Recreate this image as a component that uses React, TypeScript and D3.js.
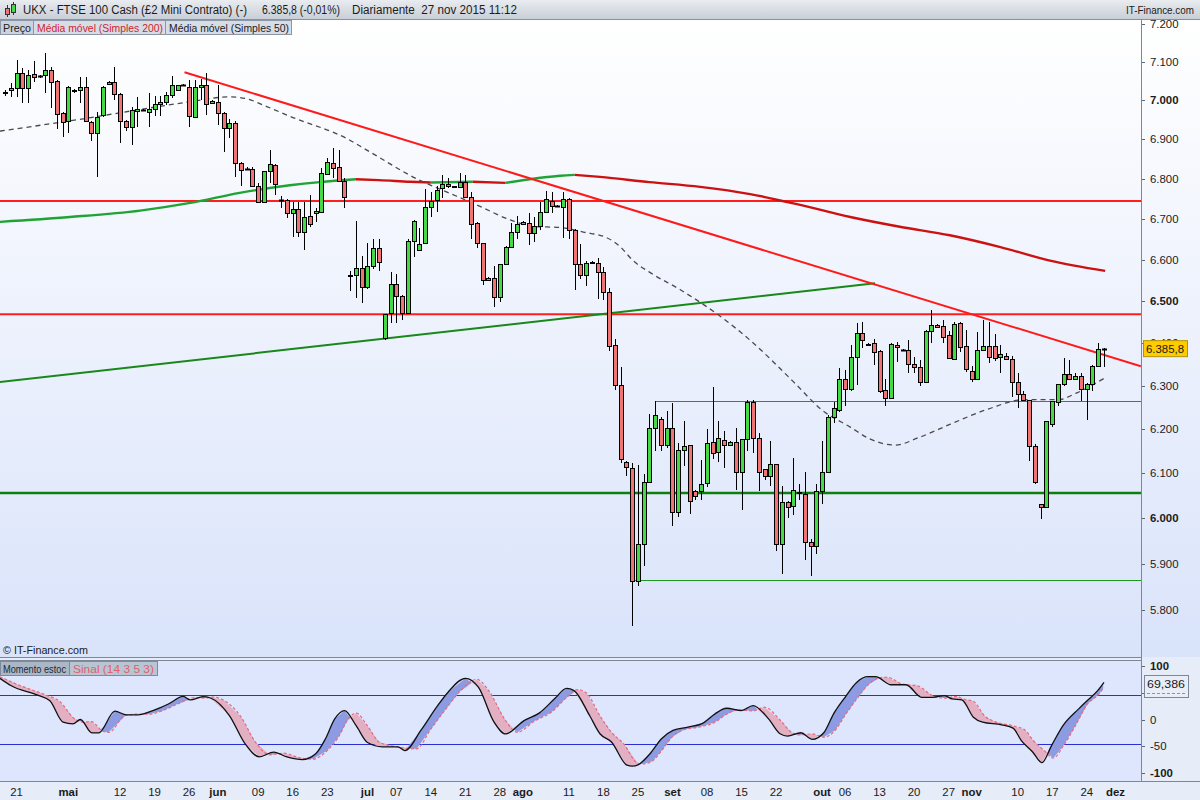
import React from 'react';
import * as d3 from 'd3';

const opens = [7020,7026,7031,7070,7031,7068,7063,7066,7079,7050,6968,6946,7026,7026,7034,6944,6917,6961,7042,7047,7016,6946,6932,6973,6976,6971,6977,6990,6997,7015,7026,7039,7035,6958,7034,7039,6992,6997,6968,6929,6943,6841,6826,6824,6782,6742,6820,6836,6748,6748,6714,6724,6668,6708,6714,6718,6812,6841,6830,6796,6562,6564,6580,6533,6584,6628,6413,6471,6542,6513,6472,6645,6625,6640,6731,6748,6777,6787,6781,6779,6793,6754,6690,6640,6550,6557,6509,6589,6632,6668,6687,6690,6665,6684,6717,6746,6733,6731,6750,6674,6590,6562,6594,6592,6570,6523,6395,6301,6126,6113,5862,5943,6081,6204,6223,6164,6202,6013,6153,6164,6060,6060,6079,6170,6149,6176,6165,6172,6104,6177,6263,6179,6109,6095,6120,5943,6036,6026,6057,6053,5947,5938,6060,6104,6228,6245,6316,6292,6368,6425,6397,6400,6382,6291,6272,6395,6385,6385,6350,6344,6309,6428,6444,6440,6419,6362,6448,6393,6335,6316,6385,6393,6393,6367,6369,6362,6309,6281,6267,6162,6031,6024,6212,6263,6304,6327,6316,6322,6292,6304,6347,6386];
const highs = [7028,7045,7105,7084,7079,7102,7066,7124,7087,7052,6970,7037,7030,7060,7060,6946,6971,7037,7050,7087,7018,6949,6983,7008,6978,7018,7010,7010,7022,7063,7040,7042,7053,7053,7055,7071,7000,7039,6971,6951,6946,6842,6829,6829,6790,6821,6874,6837,6757,6749,6743,6743,6743,6760,6728,6828,6853,6878,6873,6802,6574,6694,6610,6642,6652,6652,6470,6571,6565,6516,6652,6698,6679,6774,6767,6781,6810,6802,6783,6815,6810,6767,6692,6641,6558,6586,6591,6633,6690,6707,6694,6714,6706,6742,6770,6767,6735,6767,6753,6675,6638,6597,6596,6605,6582,6531,6410,6345,6127,6124,6118,6098,6234,6264,6227,6242,6261,6168,6218,6165,6062,6129,6200,6298,6220,6196,6174,6202,6178,6268,6268,6191,6110,6173,6121,6071,6037,6134,6075,6102,5954,6075,6174,6232,6262,6341,6337,6395,6447,6450,6400,6411,6384,6316,6400,6404,6387,6407,6368,6361,6431,6479,6446,6455,6428,6450,6450,6431,6346,6426,6455,6450,6421,6395,6378,6371,6330,6287,6268,6166,6032,6219,6266,6305,6364,6360,6331,6330,6306,6348,6400,6388];
const lows = [7012,7008,7008,6993,6993,7047,7058,7018,6980,6927,6905,6917,7020,6993,6944,6895,6805,6958,7040,7000,6890,6920,6885,6932,6973,6932,6959,6959,6988,7007,7025,7037,6931,6957,7000,6961,6990,6937,6869,6904,6806,6783,6822,6782,6739,6740,6790,6760,6728,6702,6656,6657,6625,6680,6693,6714,6811,6803,6796,6727,6525,6508,6495,6529,6577,6573,6407,6447,6448,6455,6471,6607,6621,6639,6706,6718,6752,6777,6779,6777,6753,6650,6629,6538,6548,6487,6498,6588,6631,6650,6685,6635,6644,6673,6716,6714,6731,6654,6650,6527,6553,6537,6592,6505,6502,6382,6291,6124,6094,5766,5851,5894,6080,6151,6151,6158,5983,6003,6117,6009,6040,6040,6070,6132,6126,6112,6163,6062,6017,6151,6146,6061,6086,6071,5927,5878,6000,6007,6040,5909,5873,5922,6032,6100,6215,6240,6253,6287,6302,6388,6393,6349,6283,6253,6271,6355,6383,6331,6331,6300,6307,6400,6437,6400,6362,6361,6380,6333,6310,6314,6384,6354,6357,6330,6360,6275,6249,6264,6128,6077,5999,6023,6205,6253,6300,6315,6314,6264,6222,6287,6346,6345];
const closes = [7022,7033,7070,7031,7066,7060,7062,7079,7047,6966,6944,7034,7025,7034,6946,6917,6956,7034,7047,7016,6946,6932,6976,6978,6975,6978,6990,6997,7015,7039,7039,7040,6959,7034,7041,6990,6999,6968,6929,6943,6841,6822,6825,6782,6742,6820,6838,6786,6747,6714,6724,6668,6706,6687,6720,6815,6843,6828,6796,6756,6561,6580,6533,6584,6628,6594,6469,6542,6513,6472,6645,6695,6638,6729,6745,6773,6787,6782,6780,6793,6754,6687,6640,6552,6557,6509,6589,6632,6668,6687,6692,6665,6684,6717,6750,6733,6732,6750,6674,6589,6562,6592,6593,6570,6521,6394,6301,6133,6115,5862,5943,6081,6204,6233,6164,6202,6013,6153,6161,6037,6050,6077,6168,6147,6179,6165,6172,6104,6177,6263,6179,6104,6095,6120,5943,6036,6024,6062,6056,5947,5938,6060,6104,6227,6248,6316,6292,6368,6425,6407,6396,6380,6288,6272,6397,6390,6384,6350,6344,6310,6428,6443,6438,6414,6365,6445,6392,6340,6316,6385,6393,6368,6366,6374,6362,6309,6281,6267,6162,6080,6024,6218,6264,6304,6327,6316,6322,6292,6304,6347,6386,6386];

const sma50Idx = [-0.9,12.5,25,32,39,42,45.5,49.5,59.4,64,72,76,82,87.8,91.8,96.5,100.5,104.6,107,109,112,117.3,124.3,129.5,137,142,146.9,150.3,154.7,159,164.2,171,177,183,186.3,191.2];
const sma50Val = [6921,6950,6980,6996,7009,7004,6984,6959,6902,6863,6797,6772,6735,6698,6682,6679,6668,6654,6631,6600,6570,6528,6464,6407,6310,6244,6205,6178,6164,6182,6211,6247,6268,6268,6284,6319];

const sma200Idx = [-0.9,11.3,23.5,32.2,40.8,49.5,54.7,61,65,70.4,74,81.3,87,96.5,99,103.4,112,120.8,129.5,138.2,146.9,155.5,164.2,173,181.6,191.2];
const sma200Val = [6693,6705,6721,6740,6765,6784,6792,6799,6797,6793,6791,6793,6790,6808,6810,6805,6792,6780,6762,6735,6705,6681,6660,6631,6598,6573];

const momIdx = [-0.9,1.1,5.8,7.8,10.1,11.8,13.1,15.1,16.3,19.1,21.1,23.1,25.7,28.4,31,32.2,34.4,35.7,39,41.7,44.2,46.7,49,51.7,54,55.7,57.3,59,61,63,65.6,68.3,69.5,72.3,75,77,80,82.3,85,87,90.2,92.9,95.6,97.6,98.9,101.6,103.4,105.4,108.1,109,110.1,112.1,114.1,116.1,118.7,121.4,123.4,125.4,128,130,132.7,134.7,136,138.3,140.3,142.3,144,146,148,150,151.3,154,156.6,159.3,161.3,163.3,164.6,166.3,168.3,169.9,173.2,175.2,176.6,178.6,180.2,181.9,183.9,186.6,188.2,189.9,191];
const momVal = [77,63,45,35,-5,-8,0,-25,-25,15.5,8.7,8.7,16.7,29,43.3,36.5,42.7,40.2,7.4,-45,-70,-61,-70,-75,-64,-36,1,16.7,-11,-43,-51,-51,-58,-20,23,51,77,60,-5,-27,-2,12.4,39.6,58.2,54,7.4,-26.6,-42,-85.4,-87.3,-84.2,-64,-36,-20.4,-14.2,-6.2,10.5,21,16.7,26,1.2,-26.6,-31,-24.8,-37.2,-24.8,10.5,41.5,69.3,80,80,65,65,41.5,41.5,44.6,38.4,36.5,4.3,-5,-10,-16,-39,-60.7,-80.5,-48.3,-11,19.8,36.5,53.9,69.4];

const sigIdx = [-0.9,2.5,7,9.5,12,13.5,15,17,18,21,23,25,27.5,30,33,34.5,36,38,41,43.5,46,48.5,51,53.5,56,58,59.5,61,63,65,67.5,70,71.5,74,77,79,82,84,87,89,92,95,97.5,99.5,101,103.5,105.5,107.5,110,111,112.5,114,116,118,120.7,123.4,125.4,127.4,130,132,134.7,136.7,138,140.3,142.3,144.3,146,148,150,152,153.3,156,158.6,161.3,163.3,165.3,166.6,168.3,170.3,172,175.2,177.2,178.6,180.6,182.2,183.9,185.9,188.2,189.9,191];
const sigVal = [80,64,46,34,2,-5,-4,-22,-24,8,10,10,17,29,41,40,42,36,5,-42,-66,-63,-71,-74,-58,-32,-2,12,-12,-42,-50,-54,-55,-18,25,52,75,55,-2,-24,-3,14,40,56,50,5,-25,-45,-82,-83,-78,-60,-32,-19,-14,-5,10,18,16,23,-1,-24,-29,-27,-33,-20,8,38,65,78,79,66,63,44,40,43,38,34,6,-4,-12,-19,-38,-58,-72,-50,-14,30,45,60];

const priceTicks = [5800,5900,6000,6100,6200,6300,6400,6500,6600,6700,6800,6900,7000,7100,7200];
const boldPriceTicks = [6000,6500,7000];
const subTicks = [100,50,0,-50,-100];

const xLabelIdx = [2,11,20,26,32,37,44,50,56,63,68,74,80,86,90,98,104,110,116,122,128,134,142,146,152,158,164,168,176,182,188,193];
const xLabelText = ['21','mai','12','19','26','jun','09','16','23','jul','07','14','21','28','ago','11','18','25','set','08','15','22','out','06','13','20','27','nov','10','17','24','dez'];

const redLevels = [6745,6469];
const greenLevel = 6056;
const boxTop = { idx: 113, price: 6264 };
const boxBottom = { idx: 109, price: 5865 };
const redTrend = [[31.2,7073],[197.4,6346]];
const greenTrend = [[-0.9,6309],[151.2,6543]];
const lastPrice = '6.385,8';
const lastMom = '69,386';

const FONT = '"Liberation Sans", Arial, sans-serif';
const GREEN = '#46d946';
const RED = '#f07474';

function interp(xs: number[], vs: number[], t: number) {
  if (t <= xs[0]) return vs[0];
  for (let i = 1; i < xs.length; i++) {
    if (t <= xs[i]) {
      const f = (t - xs[i - 1]) / (xs[i] - xs[i - 1]);
      return vs[i - 1] + f * (vs[i] - vs[i - 1]);
    }
  }
  return vs[vs.length - 1];
}

function FitText(props: { x: number; y: number; w: number; size: number; fill: string; children: string; weight?: string }) {
  return (
    <text x={props.x} y={props.y} fontSize={props.size} fill={props.fill} textLength={props.w} lengthAdjust="spacingAndGlyphs" fontWeight={props.weight || 'normal'} xmlSpace="preserve">
      {props.children}
    </text>
  );
}

export default function App() {
  const x = d3.scaleLinear().domain([0, 191]).range([5, 1104]);
  const y = d3.scaleLog().domain([5800, 7200]).range([610, 24]);
  const ys = d3.scaleLinear().domain([-100, 100]).range([773, 666]);
  const AX = 1141;

  const sma50Line = d3.line<number>().x((_, i) => x(sma50Idx[i])).y((v) => y(v)).curve(d3.curveMonotoneX)(sma50Val) || '';

  const runs: { pts: number[]; up: boolean }[] = [];
  for (let i = 0; i < sma200Val.length - 1; i++) {
    const up = sma200Val[i + 1] >= sma200Val[i];
    if (runs.length && runs[runs.length - 1].up === up) runs[runs.length - 1].pts.push(i + 1);
    else runs.push({ pts: [i, i + 1], up });
  }
  const ma200Gen = d3.line<number>().x((k) => x(sma200Idx[k])).y((k) => y(sma200Val[k])).curve(d3.curveMonotoneX);

  const grid: number[] = [];
  for (let t = -0.9; t <= 191.001; t += 0.25) grid.push(t);
  const mG = grid.map((t) => interp(momIdx, momVal, t));
  const sG = grid.map((t) => interp(sigIdx, sigVal, t));
  const blueArea = d3.area<number>().x((t) => x(t)).y0((_, i) => ys(sG[i])).y1((_, i) => ys(Math.max(mG[i], sG[i])))(grid) || '';
  const pinkArea = d3.area<number>().x((t) => x(t)).y0((_, i) => ys(mG[i])).y1((_, i) => ys(Math.max(mG[i], sG[i])))(grid) || '';
  const momLine = d3.line<number>().x((_, i) => x(momIdx[i])).y((v) => ys(v)).curve(d3.curveMonotoneX)(momVal) || '';
  const sigLine = d3.line<number>().x((_, i) => x(sigIdx[i])).y((v) => ys(v)).curve(d3.curveMonotoneX)(sigVal) || '';

  const yLast = y(6386);

  return (
    <div style={{ position: 'absolute', left: 0, top: 0 }}>
      <svg width={1200} height={800} style={{ display: 'block', fontFamily: FONT }}>
        <defs>
          <linearGradient id="bgMain" x1="0" y1="0" x2="0" y2="1">
            <stop offset="0" stopColor="#ffffff" />
            <stop offset="1" stopColor="#d9e3fa" />
          </linearGradient>
          <linearGradient id="hdr" x1="0" y1="0" x2="0" y2="1">
            <stop offset="0" stopColor="#e9ecf0" />
            <stop offset="1" stopColor="#c9cfd7" />
          </linearGradient>
          <clipPath id="clipMain"><rect x={0} y={19} width={AX} height={638} /></clipPath>
          <clipPath id="clipSub"><rect x={0} y={660} width={AX} height={121} /></clipPath>
        </defs>
        <rect x={0} y={0} width={1200} height={800} fill="#e6ecf8" />
        <rect x={0} y={19} width={1200} height={638} fill="url(#bgMain)" />
        <rect x={0} y={0} width={1200} height={19} fill="url(#hdr)" />
        <line x1={0} x2={1200} y1={19.5} y2={19.5} stroke="#8592a2" />
        <g>
          <line x1={7.5} x2={7.5} y1={5} y2={17} stroke="#333" />
          <rect x={5.5} y={8.5} width={4} height={6} fill={RED} stroke="#333" />
          <line x1={13.5} x2={13.5} y1={2} y2={15} stroke="#333" />
          <rect x={11.5} y={4.5} width={4} height={8} fill={GREEN} stroke="#333" />
        </g>
        <FitText x={23} y={14} w={224} size={12} fill="#1b1b1b">UKX - FTSE 100 Cash (£2 Mini Contrato) (-)</FitText>
        <FitText x={262} y={14} w={78} size={12} fill="#1b1b1b">6.385,8 (-0,01%)</FitText>
        <FitText x={352} y={14} w={165} size={12} fill="#1b1b1b">Diariamente  27 nov 2015 11:12</FitText>
        <FitText x={1126} y={14} w={68} size={10} fill="#1b1b1b">IT-Finance.com</FitText>

        <g clipPath="url(#clipMain)">
          {redLevels.map((p, i) => (
            <line key={'rl' + i} x1={0} x2={AX} y1={y(p)} y2={y(p)} stroke="#ff1e1e" strokeWidth={2} />
          ))}
          <line x1={0} x2={AX} y1={y(greenLevel)} y2={y(greenLevel)} stroke="#0c7f0c" strokeWidth={2.5} />
          <line x1={x(boxTop.idx)} x2={AX} y1={Math.round(y(boxTop.price)) + 0.5} y2={Math.round(y(boxTop.price)) + 0.5} stroke="#1f981f" strokeWidth={1} />
          <line x1={x(boxBottom.idx)} x2={AX} y1={Math.round(y(boxBottom.price)) + 0.5} y2={Math.round(y(boxBottom.price)) + 0.5} stroke="#1f981f" strokeWidth={1} />
          {runs.map((r, i) => (
            <path key={'ma' + i} d={ma200Gen(r.pts) || ''} fill="none" stroke={r.up ? '#1fa335' : '#cc1111'} strokeWidth={2.4} />
          ))}
          <line x1={x(greenTrend[0][0])} y1={y(greenTrend[0][1])} x2={x(greenTrend[1][0])} y2={y(greenTrend[1][1])} stroke="#188818" strokeWidth={2} />
          <line x1={x(redTrend[0][0])} y1={y(redTrend[0][1])} x2={x(redTrend[1][0])} y2={y(redTrend[1][1])} stroke="#ff1a1a" strokeWidth={2} />
          <path d={sma50Line} fill="none" stroke="#4a4a4a" strokeWidth={1.3} strokeDasharray="5,4" />
          {opens.map((o, i) => {
            const c = closes[i];
            const cx = Math.round(x(i));
            const yT = Math.round(y(Math.max(o, c)));
            const yB = Math.round(y(Math.min(o, c)));
            const bh = yB - yT;
            return (
              <g key={'c' + i}>
                <line x1={cx + 0.5} x2={cx + 0.5} y1={Math.round(y(highs[i]))} y2={Math.round(y(lows[i]))} stroke="#000" strokeWidth={1} />
                {bh >= 1 ? (
                  <rect x={cx - 1.5} y={yT + 0.5} width={4} height={bh} fill={c >= o ? GREEN : RED} stroke="#000" strokeWidth={1} />
                ) : (
                  <line x1={cx - 2} x2={cx + 3} y1={yT + 0.5} y2={yT + 0.5} stroke="#000" strokeWidth={2} />
                )}
              </g>
            );
          })}
        </g>

        <rect x={0.5} y={20.5} width={33} height={14} fill="#cbd3de" stroke="#8b97a7" />
        <FitText x={3} y={31.5} w={28} size={11.5} fill="#222">Preço</FitText>
        <rect x={33.5} y={20.5} width={132} height={14} fill="#d6dde7" stroke="#8b97a7" />
        <FitText x={37} y={31.5} w={126} size={11.5} fill="#d2222c">Média móvel (Simples 200)</FitText>
        <rect x={165.5} y={20.5} width={126} height={14} fill="#d6dde7" stroke="#8b97a7" />
        <FitText x={169} y={31.5} w={120} size={11.5} fill="#222">Média móvel (Simples 50)</FitText>

        <FitText x={3} y={654} w={85} size={11} fill="#1b1b1b">© IT-Finance.com</FitText>

        {priceTicks.map((p) => (
          <g key={'pt' + p}>
            <line x1={AX} x2={AX + 4} y1={Math.round(y(p)) + 0.5} y2={Math.round(y(p)) + 0.5} stroke="#5a6675" />
            <text x={1150} y={y(p) + 4} fontSize={11.4} fill="#1b1b1b" fontWeight={boldPriceTicks.includes(p) ? 'bold' : 'normal'}>
              {(p / 1000).toFixed(3)}
            </text>
          </g>
        ))}
        <rect x={1143.5} y={yLast - 8.5} width={44} height={16} fill="#ffcc00" stroke="#b59300" />
        <FitText x={1146} y={yLast + 4} w={38} size={11.4} fill="#1b1b1b">{lastPrice}</FitText>

        <line x1={0} x2={AX} y1={657.5} y2={657.5} stroke="#7c8898" />
        <rect x={0} y={660} width={AX} height={121} fill="#dde6fd" />
        <line x1={0} x2={AX} y1={660.5} y2={660.5} stroke="#7c8898" />
        <g clipPath="url(#clipSub)">
          <line x1={0} x2={AX} y1={Math.round(ys(45)) + 0.5} y2={Math.round(ys(45)) + 0.5} stroke="#2a30d8" />
          <line x1={0} x2={AX} y1={Math.round(ys(-45)) + 0.5} y2={Math.round(ys(-45)) + 0.5} stroke="#2a30d8" />
          <path d={blueArea} fill="#8d9be3" />
          <path d={pinkArea} fill="#e2b0c2" />
          <path d={sigLine} fill="none" stroke="#e86a7c" strokeWidth={1.2} strokeDasharray="3,2" />
          <path d={momLine} fill="none" stroke="#111" strokeWidth={1.3} />
        </g>
        <rect x={0.5} y={661.5} width={69} height={14} fill="#a9b7c6" stroke="#7d8b9b" />
        <FitText x={3} y={672.5} w={63} size={10.6} fill="#1e2a36">Momento estoc</FitText>
        <rect x={69.5} y={661.5} width={88} height={14} fill="#bac5d3" stroke="#7d8b9b" />
        <FitText x={73} y={672.5} w={81} size={10.6} fill="#e0606e">Sinal (14 3 5 3)</FitText>

        {subTicks.map((v) => (
          <g key={'st' + v}>
            <line x1={AX} x2={AX + 4} y1={Math.round(ys(v)) + 0.5} y2={Math.round(ys(v)) + 0.5} stroke="#5a6675" />
            <text x={1150} y={ys(v) + 4} fontSize={11.4} fill="#1b1b1b" fontWeight={Math.abs(v) === 100 ? 'bold' : 'normal'}>{v}</text>
          </g>
        ))}
        <rect x={1144.5} y={675.5} width={44} height={22} fill="#e8edf8" stroke="#7c8898" />
        <FitText x={1147} y={688} w={38} size={11.4} fill="#1b1b1b">{lastMom}</FitText>
        <line x1={1147} x2={1186} y1={693.5} y2={693.5} stroke="#e86a7c" strokeDasharray="3,2" />

        <line x1={AX + 0.5} x2={AX + 0.5} y1={19} y2={781} stroke="#7c8898" />
        <line x1={0} x2={1200} y1={781.5} y2={781.5} stroke="#7c8898" />
        {xLabelIdx.map((k, i) => {
          const bold = isNaN(Number(xLabelText[i]));
          return (
            <text key={'xl' + i} x={x(k)} y={796} fontSize={11.4} textAnchor="middle" fill="#1b1b1b" fontWeight={bold ? 'bold' : 'normal'}>
              {xLabelText[i]}
            </text>
          );
        })}
      </svg>
    </div>
  );
}
